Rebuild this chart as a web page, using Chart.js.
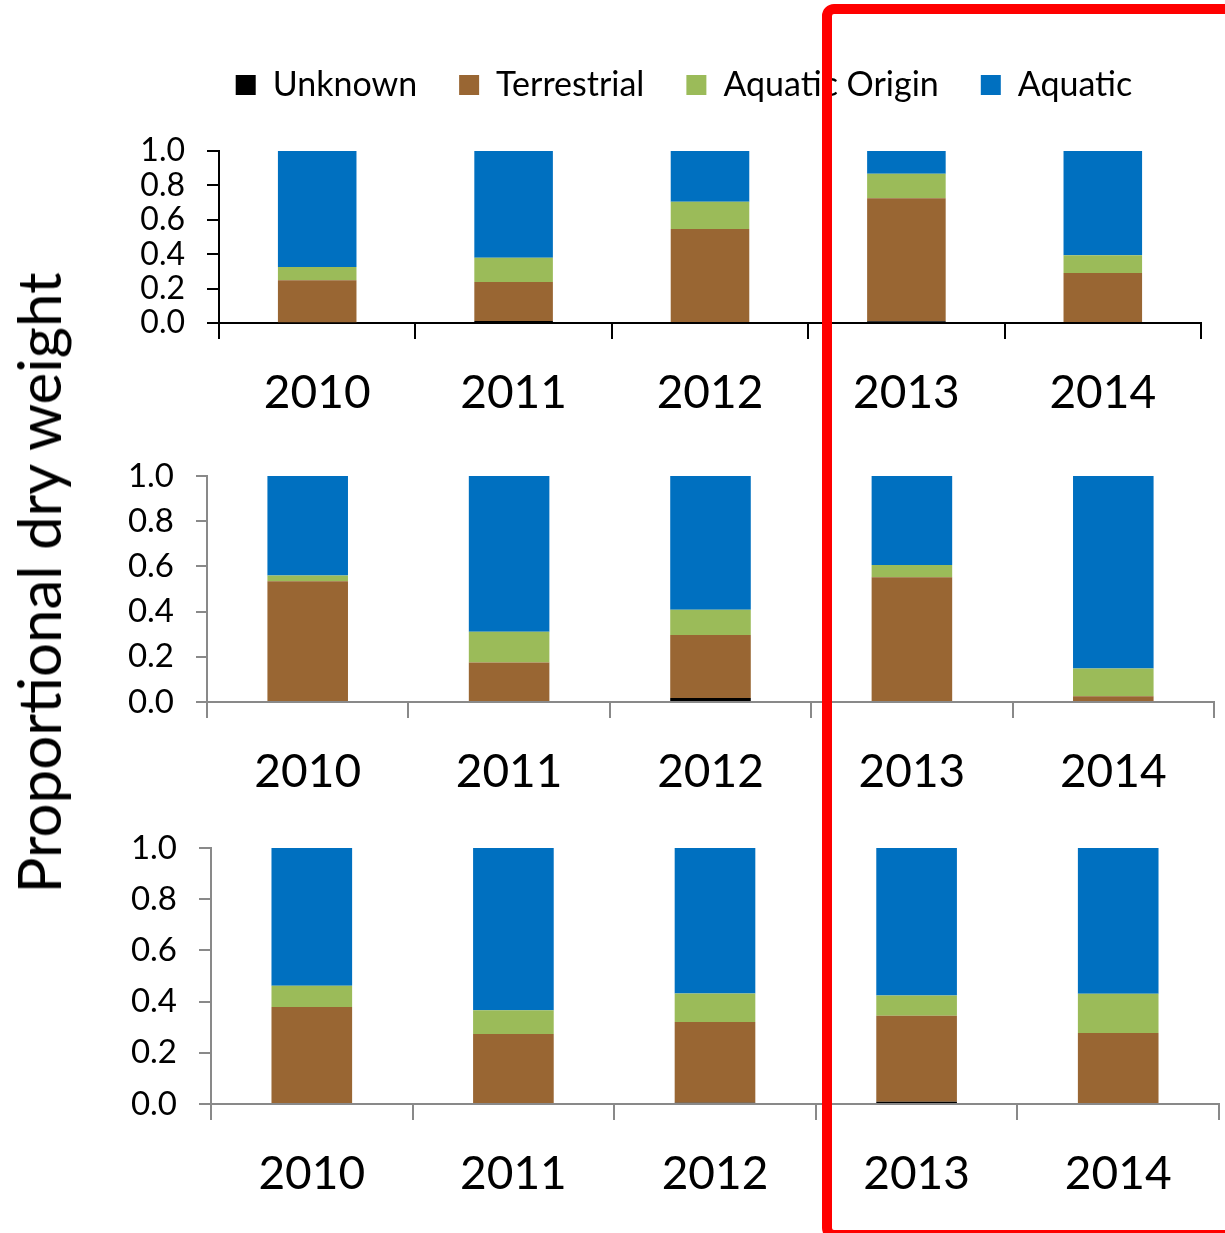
<!DOCTYPE html>
<html>
<head>
<meta charset="utf-8">
<script src="https://cdn.jsdelivr.net/npm/chart.js@4.4.0/dist/chart.umd.min.js"></script>
<style>
  html, body { margin: 0; padding: 0; background: #ffffff; }
  #wrap { position: relative; width: 1225px; height: 1233px; overflow: hidden; background: #ffffff; }
  #wrap canvas { position: absolute; left: 0; }
  #ytitle {
    position: absolute; left: 38px; top: 583px;
    transform: translate(-50%, -50%) rotate(-90deg);
    font-family: Lato, sans-serif; font-size: 60px; color: #000000; white-space: nowrap;
  }
  #frame {
    position: absolute; left: 822px; top: 4px; width: 440px; height: 1236px;
    border: 10px solid #ff0000; border-radius: 12px; box-sizing: border-box; pointer-events: none;
  }
</style>
</head>
<body>
<div id="wrap">
  <canvas id="c1" width="1225" height="430" style="top:0px"></canvas>
  <canvas id="c2" width="1225" height="380" style="top:430px"></canvas>
  <canvas id="c3" width="1225" height="433" style="top:800px"></canvas>
  <div id="ytitle">Proportional dry weight</div>
  <div id="frame"></div>
</div>
<script>
// Years on the category axis
const years = ['2010', '2011', '2012', '2013', '2014'];
const seriesNames = ['Unknown', 'Terrestrial', 'Aquatic Origin', 'Aquatic'];
const seriesColors = ['#000000', '#996633', '#9BBB59', '#0070C0'];
const yTicks = [0, 0.2, 0.4, 0.6, 0.8, 1.0];

// Proportional dry weight per year, top panel
const topUnknown       = [0.003, 0.012, 0.006, 0.010, 0.000];
const topTerrestrial   = [0.246, 0.227, 0.540, 0.716, 0.291];
const topAquaticOrigin = [0.077, 0.140, 0.159, 0.142, 0.103];
const topAquatic       = [0.674, 0.621, 0.295, 0.132, 0.606];

// Middle panel
const midUnknown       = [0.000, 0.000, 0.018, 0.000, 0.000];
const midTerrestrial   = [0.534, 0.175, 0.278, 0.552, 0.025];
const midAquaticOrigin = [0.026, 0.136, 0.112, 0.054, 0.123];
const midAquatic       = [0.440, 0.689, 0.592, 0.394, 0.852];

// Bottom panel
const lowUnknown       = [0.000, 0.000, 0.005, 0.009, 0.000];
const lowTerrestrial   = [0.379, 0.273, 0.315, 0.336, 0.277];
const lowAquaticOrigin = [0.083, 0.093, 0.112, 0.079, 0.154];
const lowAquatic       = [0.538, 0.634, 0.568, 0.576, 0.569];

const FONT = 'Lato, sans-serif';

function makeDatasets(series) {
  return series.map((vals, i) => ({
    label: seriesNames[i],
    data: vals,
    backgroundColor: seriesColors[i],
    borderWidth: 0,
    categoryPercentage: 1.0,
    barPercentage: 0.4
  }));
}

// Fixes the legend block height and its horizontal extent
const legendPlace = {
  id: 'legendPlace',
  beforeLayout(chart, args, opts) {
    const lg = chart.legend;
    if (lg && !lg._placePatched) {
      const fit = lg.fit.bind(lg);
      lg.fit = function () { fit(); this.height = opts.height; };
      lg._placePatched = true;
    }
  },
  afterLayout(chart, args, opts) {
    const lg = chart.legend;
    if (lg) { lg.left = opts.left; lg.right = opts.right; }
  }
};

function panel(id, series, cfg) {
  const plugins = cfg.legend ? [legendPlace] : [];
  return new Chart(document.getElementById(id), {
    type: 'bar',
    data: { labels: years, datasets: makeDatasets(series) },
    plugins: plugins,
    options: {
      responsive: false,
      animation: false,
      devicePixelRatio: 1,
      layout: { padding: cfg.padding },
      plugins: {
        legend: cfg.legend ? {
          display: true,
          position: 'top',
          labels: {
            boxWidth: 20, boxHeight: 20, padding: 42, color: '#000000',
            font: { family: FONT, size: 34 }
          }
        } : { display: false },
        legendPlace: { height: cfg.legendHeight || 0, left: 167, right: 1201 },
        tooltip: { enabled: false }
      },
      scales: {
        x: {
          stacked: true,
          offset: true,
          afterFit: s => { s.height = cfg.xHeight; },
          grid: {
            display: true, offset: true, drawOnChartArea: false, drawTicks: true,
            tickLength: 16, color: cfg.axisColor, lineWidth: 2
          },
          border: { display: true, color: cfg.axisColor, width: 2 },
          ticks: {
            color: '#000000', padding: 27, maxRotation: 0, autoSkip: false,
            font: { family: FONT, size: 46 }
          }
        },
        y: {
          stacked: true,
          min: 0, max: 1,
          afterFit: s => { s.width = cfg.yWidth; },
          afterBuildTicks: s => { s.ticks = yTicks.map(v => ({ value: v })); },
          grid: {
            display: true, drawOnChartArea: false, drawTicks: true,
            tickLength: cfg.yTickLen, color: cfg.axisColor, lineWidth: 2
          },
          border: { display: true, color: cfg.axisColor, width: 2 },
          ticks: {
            color: '#000000', padding: 22, autoSkip: false,
            font: { family: FONT, size: cfg.yFont },
            callback: v => Number(v).toFixed(1)
          }
        }
      }
    }
  });
}

panel('c1', [topUnknown, topTerrestrial, topAquaticOrigin, topAquatic], {
  legend: true, legendHeight: 125,
  padding: { top: 26, left: 0, right: 24, bottom: 0 },
  yWidth: 219, xHeight: 107, axisColor: '#000000', yTickLen: 12, yFont: 32
});
panel('c2', [midUnknown, midTerrestrial, midAquaticOrigin, midAquatic], {
  padding: { top: 46, left: 0, right: 11, bottom: 0 },
  yWidth: 207, xHeight: 108, axisColor: '#898989', yTickLen: 11, yFont: 33
});
panel('c3', [lowUnknown, lowTerrestrial, lowAquaticOrigin, lowAquatic], {
  padding: { top: 48, left: 0, right: 6, bottom: 0 },
  yWidth: 211, xHeight: 129, axisColor: '#898989', yTickLen: 12, yFont: 33
});
</script>
</body>
</html>
